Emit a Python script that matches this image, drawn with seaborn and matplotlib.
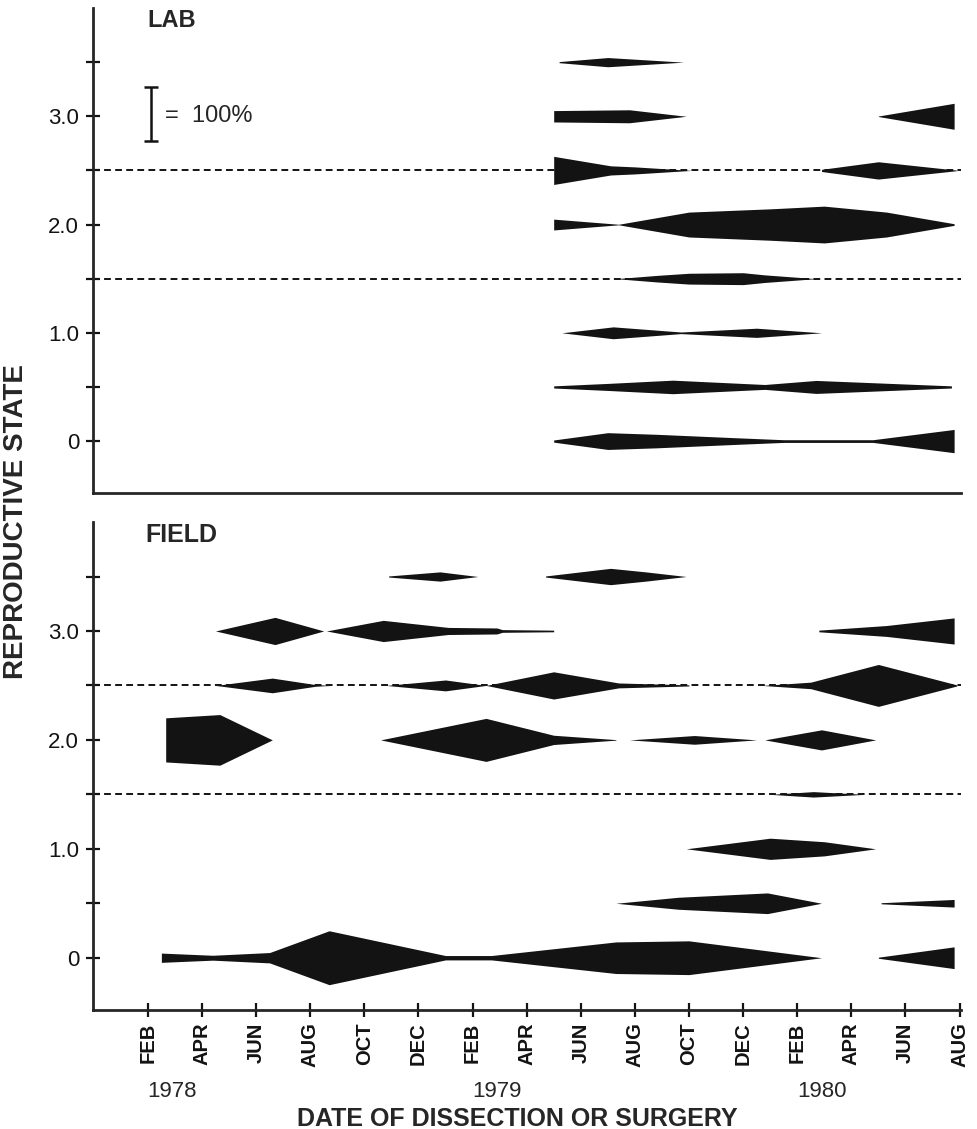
import numpy as np
import pandas as pd
import seaborn as sns
import matplotlib.pyplot as plt
import matplotlib.transforms as mtransforms

sns.set_theme(style='ticks')
plt.rcParams['font.family'] = ['Liberation Sans', 'DejaVu Sans']

# x axis: month index, 0 = FEB 1978 ... 30 = AUG 1980
month_ticks = list(range(0, 31, 2))
month_labels = ['FEB', 'APR', 'JUN', 'AUG', 'OCT', 'DEC',
                'FEB', 'APR', 'JUN', 'AUG', 'OCT', 'DEC',
                'FEB', 'APR', 'JUN', 'AUG']
year_labels = ['1978', '1979', '1980']
year_pos = [0.9, 12.9, 24.9]

# y axis: reproductive state
state_levels = [0, 0.5, 1.0, 1.5, 2.0, 2.5, 3.0, 3.5]
state_labels = ['0', '', '1.0', '', '2.0', '', '3.0', '']

# kite widths: (month, percent), None = break between kites
lab_00 = [(15, 4), (17, 31), (18.8, 25), (21.8, 12), (23.5, 5), (26.8, 5), (29.8, 43)]
lab_05 = [(15, 4), (17, 13), (19.4, 25), (22.8, 9), (24.7, 24), (29.7, 4)]
lab_10 = [(15.3, 0), (17.2, 22), (19.7, 3), (22.5, 17), (24.9, 0)]
lab_15 = [(17.3, 0), (18.8, 12), (20, 20), (22, 22), (22.8, 14), (24.7, 0)]
lab_20 = [(15, 20), (17.4, 1), (20, 46), (23, 58), (25, 68), (27.3, 46), (29.8, 3)]
lab_25 = [(15, 52), (17.1, 17), (18, 13), (20.1, 0), None,
          (24.9, 4), (27, 32), (29.9, 1)]
lab_30 = [(15, 21), (17.8, 24), (19.9, 0), None, (27, 1), (29.8, 48)]
lab_35 = [(15.2, 2), (17, 17), (19.8, 0)]

field_00 = [(0.5, 17), (2.4, 9), (4.5, 19), (6.7, 99), (11, 8), (12.7, 8),
            (17.3, 58), (20, 62), (24.9, 0), None, (27, 2), (29.8, 40)]
field_05 = [(17.3, 0), (19.6, 22), (22.9, 38), (24.9, 0), None, (27.1, 2), (29.8, 14)]
field_10 = [(19.9, 0), (23, 39), (25, 26), (26.9, 0)]
field_15 = [(23, 0), (24.6, 10), (26.5, 0)]
field_20 = [(0.66, 81), (2.66, 93), (4.6, 0), None,
            (8.6, 0), (12.5, 79), (15, 17), (17.3, 1), None,
            (17.8, 0), (20.2, 16), (22.5, 0), None,
            (22.8, 0), (24.9, 37), (26.9, 0)]
field_25 = [(2.5, 0), (4.6, 27), (6.2, 3), (6.8, 0), None,
            (8.8, 0), (11, 20), (12.5, 0), (15, 50), (17.4, 9), (20, 2), None,
            (22.7, 0), (24.5, 12), (27, 77), (29.9, 2)]
field_30 = [(2.5, 0), (4.7, 50), (6.5, 0), None,
            (6.6, 0), (8.7, 39), (11.1, 13), (12.9, 11), (13.1, 5), (15, 3), None,
            (24.8, 3), (27.3, 20), (29.8, 48)]
field_35 = [(8.9, 2), (10.8, 17), (12.2, 0), None,
            (14.7, 2), (17.1, 30), (18.4, 17), (19.9, 0)]

lab_series = [lab_00, lab_05, lab_10, lab_15, lab_20, lab_25, lab_30, lab_35]
field_series = [field_00, field_05, field_10, field_15, field_20, field_25, field_30, field_35]


def to_rows(panel, level, points):
    rows = []
    kite = 0
    for p in points:
        if p is None:
            kite += 1
            continue
        rows.append((panel, level, kite, p[0], p[1]))
    return rows


rows = []
for level, pts in zip(state_levels, lab_series):
    rows += to_rows('LAB', level, pts)
for level, pts in zip(state_levels, field_series):
    rows += to_rows('FIELD', level, pts)
kites = pd.DataFrame(rows, columns=['panel', 'level', 'kite', 'month', 'pct'])

fig = plt.figure(figsize=(9.78, 11.29), dpi=100)
ax_lab = fig.add_axes([0.095, 0.5633, 0.8875, 0.4296])
ax_field = fig.add_axes([0.095, 0.1054, 0.8875, 0.4322])
axes = {'LAB': ax_lab, 'FIELD': ax_field}

ink = '#131313'

for ax in axes.values():
    ax.set_facecolor('white')
    ax.set_xlim(-2.03, 30.05)
    ax.set_ylim(-0.48, 4.0)
    for y in (1.5, 2.5):
        ax.axhline(y, color=ink, lw=1.4, ls=(0, (3.5, 2.2)), zorder=1)
    ax.set_yticks(state_levels, state_labels, fontsize=16)
    ax.tick_params(axis='y', direction='inout', length=10, width=1.6, pad=5, colors=ink)
    sns.despine(ax=ax)
    ax.spines['left'].set_linewidth(2)
    ax.spines['bottom'].set_linewidth(2)

# 100% of a kite = 0.5 state units across
for (panel, level, kite), g in kites.groupby(['panel', 'level', 'kite']):
    half = g['pct'].to_numpy() / 100 * 0.25
    axes[panel].fill_between(g['month'], level - half, level + half,
                             color=ink, lw=0, zorder=2)

ax_lab.tick_params(axis='x', bottom=False, labelbottom=False)
ax_field.set_xticks(month_ticks, month_labels, rotation=90, fontsize=14.5, fontweight='bold')
ax_field.tick_params(axis='x', direction='inout', length=10, width=1.6, pad=4, colors=ink)

ax_lab.text(0, 3.99, 'LAB', fontsize=17, fontweight='bold', va='top', ha='left')
ax_field.text(-0.1, 3.99, 'FIELD', fontsize=18, fontweight='bold', va='top', ha='left')

# scale bar
ax_lab.errorbar([0.1], [3.02], yerr=[0.25], fmt='none', ecolor=ink,
                elinewidth=1.8, capsize=5, capthick=1.8)
ax_lab.text(0.65, 3.0, '=  100%', fontsize=17, va='center', ha='left')

trans = mtransforms.blended_transform_factory(ax_field.transData, fig.transFigure)
for pos, lab in zip(year_pos, year_labels):
    ax_field.text(pos, 1 - 1097 / 1129, lab, transform=trans, fontsize=16,
                  ha='center', va='baseline')

fig.text(0.5286, 1 - 1126 / 1129, 'DATE OF DISSECTION OR SURGERY', fontsize=18,
         fontweight='bold', ha='center', va='baseline')
fig.text(0.016, 0.5376, 'REPRODUCTIVE STATE', fontsize=20, fontweight='bold',
         rotation=90, ha='center', va='center')

fig.savefig('out.png', dpi=100, facecolor='white')
